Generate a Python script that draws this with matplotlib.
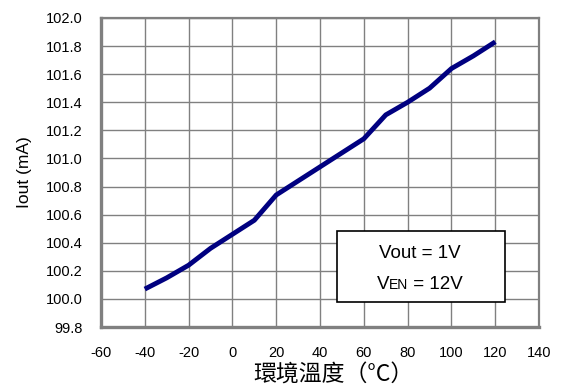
import matplotlib
matplotlib.use("Agg")
import matplotlib.pyplot as plt

temps = [-40, -30, -20, -10, 0, 10, 20, 30, 40, 50, 60, 70, 80, 90, 100, 110, 120]
iout = [100.07, 100.15, 100.24, 100.36, 100.46, 100.56, 100.74, 100.84, 100.94,
        101.04, 101.14, 101.31, 101.40, 101.50, 101.64, 101.73, 101.83]
xticks = list(range(-60, 141, 20))
yticks = [99.8 + 0.2 * i for i in range(12)]

plt.rcParams['font.family'] = ['Liberation Sans', 'DejaVu Sans']
plt.rcParams['axes.unicode_minus'] = False

fig = plt.figure(figsize=(5.61, 3.9), dpi=100)
ax = fig.add_axes([0.18, 0.1615, 0.781, 0.7925])

ax.plot(temps, iout, color='#000080', lw=3.5, solid_capstyle='butt',
        solid_joinstyle='round', zorder=3)

ax.set_xlim(-60, 140)
ax.set_ylim(99.8, 102.0)
ax.set_xticks(xticks)
ax.set_yticks(yticks)
ax.set_yticklabels([f"{v:.1f}" for v in yticks])
ax.tick_params(length=0, labelsize=10.5, colors='black')
ax.tick_params(axis='x', pad=14)
ax.tick_params(axis='y', pad=13)
ax.grid(True, color='#808080', lw=1)
ax.set_axisbelow(True)
for side, w in [('left', 2.4), ('bottom', 2.4), ('top', 1.6), ('right', 1.6)]:
    ax.spines[side].set_color('#808080')
    ax.spines[side].set_linewidth(w)

ax.set_ylabel("Iout (mA)", fontsize=12.5, labelpad=10)
ax.set_xlabel("環境溫度（°C）", fontsize=16.5, labelpad=2,
              family=['Noto Sans CJK TC', 'DejaVu Sans'])
ax.xaxis.label.set_x(0.53)

# condition box
box = plt.Rectangle((0.538, 0.080), 0.384, 0.23, transform=ax.transAxes,
                    facecolor='white', edgecolor='black', lw=1.2, zorder=4)
ax.add_patch(box)
ax.text(0.728, 0.239, "Vout = 1V", transform=ax.transAxes, ha='center', va='center',
        fontsize=13.5, zorder=5)

# second line: V + small "EN" + " = 12V", laid out piece by piece then centred
fig.canvas.draw()
r = fig.canvas.get_renderer()
parts = [("V", 13.5), ("EN", 10), (" = 12V", 13.5)]
texts = []
x = 0.0
for s, fs in parts:
    t = ax.text(x, 0.142, s, transform=ax.transAxes, ha='left', va='baseline',
                fontsize=fs, zorder=5)
    bb = t.get_window_extent(r).transformed(ax.transAxes.inverted())
    texts.append((t, x))
    x = bb.x1
width = x
base_y = 0.142 - 0.019
for t, x0 in texts:
    t.set_position((0.728 - width / 2 + x0, base_y))

fig.savefig("out.png", dpi=100)
